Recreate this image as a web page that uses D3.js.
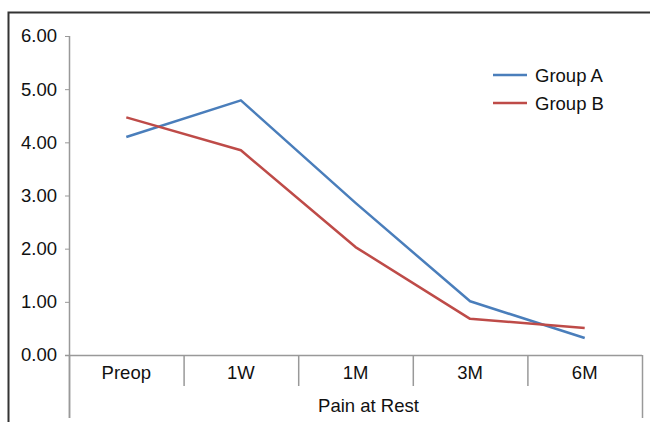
<!DOCTYPE html>
<html>
<head>
<meta charset="utf-8">
<script src="https://cdn.jsdelivr.net/npm/d3@7"></script>
<style>
  body { margin: 0; background: #fff; }
  svg { display: block; font-family: "Liberation Sans", Arial, sans-serif; }
</style>
</head>
<body>
<div class="chartContainer"></div>
<script>
const categories = ["Preop", "1W", "1M", "3M", "6M"];
const groupA = [4.10, 4.79, 2.86, 1.01, 0.32];
const groupB = [4.47, 3.85, 2.03, 0.68, 0.51];
const seriesNames = ["Group A", "Group B"];
const yTicks = [0, 1, 2, 3, 4, 5, 6];
const axisTitle = "Pain at Rest";

const width = 650, height = 422;
const margin = {top: 36, right: 8, bottom: 67, left: 69};
const colors = ["#4a7ebb", "#be4b48"];
const fontSize = 18.5;

const svg = d3.select(".chartContainer").append("svg")
  .attr("width", width).attr("height", height);

// outer frame (top + left edges visible)
svg.append("path")
  .attr("d", `M8.5,${height} V12.5 H${width}`)
  .attr("fill", "none").attr("stroke", "#333").attr("stroke-width", 2);

const x = d3.scaleBand()
  .domain(categories)
  .range([margin.left, width - margin.right])
  .paddingInner(0).paddingOuter(0);

const y = d3.scaleLinear()
  .domain([0, 6])
  .range([height - margin.bottom, margin.top]);

// y axis
const yAxis = svg.append("g")
  .attr("transform", `translate(${margin.left},0)`)
  .call(d3.axisLeft(y).tickValues(yTicks).tickFormat(d3.format(".2f")).tickSize(4).tickPadding(8));
yAxis.select(".domain").remove();
yAxis.selectAll("line").attr("stroke", "#999");
yAxis.selectAll("text").attr("font-size", fontSize).attr("fill", "#111");

const axisColor = "#999";
const y0 = y(0);
// vertical y axis line, extended down to bottom of category area
svg.append("line")
  .attr("x1", margin.left + 0.5).attr("x2", margin.left + 0.5)
  .attr("y1", margin.top).attr("y2", 418)
  .attr("stroke", axisColor).attr("stroke-width", 1.5);

// x axis baseline
svg.append("line")
  .attr("x1", margin.left - 4).attr("x2", x.range()[1])
  .attr("y1", y0 + 0.5).attr("y2", y0 + 0.5)
  .attr("stroke", axisColor).attr("stroke-width", 1.5);

// category dividers
const bounds = categories.map(c => x(c)).concat([x.range()[1]]);
svg.append("g").selectAll("line")
  .data(bounds)
  .join("line")
  .attr("x1", d => d + 0.5).attr("x2", d => d + 0.5)
  .attr("y1", y0)
  .attr("y2", (d, i) => (i === 0 || i === bounds.length - 1) ? 418 : 386)
  .attr("stroke", axisColor).attr("stroke-width", 1.5);

// category labels
svg.append("g").selectAll("text")
  .data(categories)
  .join("text")
  .attr("x", d => x(d) + x.bandwidth() / 2)
  .attr("y", 379)
  .attr("text-anchor", "middle")
  .attr("font-size", fontSize)
  .attr("fill", "#111")
  .text(d => d);

svg.append("text")
  .attr("x", (x.range()[0] + x.range()[1]) / 2 + 13)
  .attr("y", 412)
  .attr("text-anchor", "middle")
  .attr("font-size", fontSize)
  .attr("fill", "#111")
  .text(axisTitle);

// lines
const line = d3.line()
  .x((d, i) => x(categories[i]) + x.bandwidth() / 2)
  .y(d => y(d));

[groupA, groupB].forEach((vals, i) => {
  svg.append("path")
    .datum(vals)
    .attr("fill", "none")
    .attr("stroke", colors[i])
    .attr("stroke-width", 2.5)
    .attr("stroke-linejoin", "round")
    .attr("d", line);
});

// legend
const legend = svg.append("g").attr("transform", "translate(493,75)");
seriesNames.forEach((name, i) => {
  const g = legend.append("g").attr("transform", `translate(0,${i * 28})`);
  g.append("line")
    .attr("x1", 0).attr("x2", 34).attr("y1", 0).attr("y2", 0)
    .attr("stroke", colors[i]).attr("stroke-width", 2.5);
  g.append("text")
    .attr("x", 42).attr("y", 6.5)
    .attr("font-size", fontSize).attr("fill", "#111")
    .text(name);
});
</script>
</body>
</html>
